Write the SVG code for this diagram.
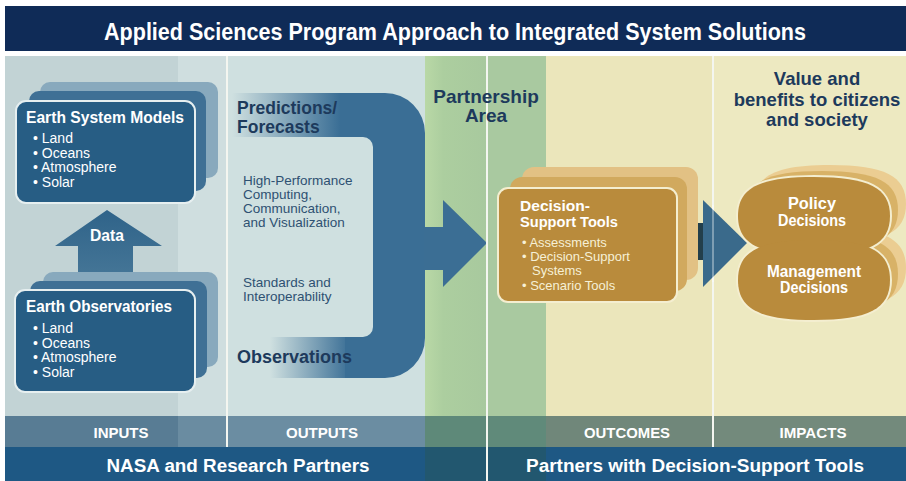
<svg xmlns="http://www.w3.org/2000/svg" width="906" height="481" viewBox="0 0 906 481">
<defs>
<style>
.cond{font-family:"Liberation Sans","DejaVu Sans",sans-serif;font-weight:bold;fill:#ffffff}
.hdr{font-family:"Liberation Sans","DejaVu Sans",sans-serif;font-weight:bold;fill:#1d3a5c}
.body{font-family:"Liberation Sans","DejaVu Sans",sans-serif;fill:#2e5172;font-size:13.5px}
.bul{font-family:"Liberation Sans","DejaVu Sans",sans-serif;fill:#ffffff;font-size:14px}
.bulc{font-family:"Liberation Sans","DejaVu Sans",sans-serif;fill:#f6f0d6;font-size:13px}
.vline{stroke:#f4f6f0;stroke-width:2}
</style>
<linearGradient id="gTop" gradientUnits="userSpaceOnUse" x1="232" y1="0" x2="340" y2="0">
<stop offset="0" stop-color="#3a6e95" stop-opacity="0"/>
<stop offset="1" stop-color="#3a6e95" stop-opacity="1"/>
</linearGradient>
<linearGradient id="gBot" gradientUnits="userSpaceOnUse" x1="270" y1="0" x2="350" y2="0">
<stop offset="0" stop-color="#3a6e95" stop-opacity="0"/>
<stop offset="1" stop-color="#3a6e95" stop-opacity="1"/>
</linearGradient>
<linearGradient id="gGreen" gradientUnits="userSpaceOnUse" x1="425" y1="0" x2="486" y2="0">
<stop offset="0" stop-color="#b9d8a6"/>
<stop offset="0.3" stop-color="#acce9f"/>
<stop offset="1" stop-color="#a8c99e"/>
</linearGradient>
<linearGradient id="gShaft" x1="0" y1="0" x2="0" y2="1">
<stop offset="0" stop-color="#2f6389"/>
<stop offset="1" stop-color="#4a7a9a"/>
</linearGradient>
<path id="pol" d="M738,216 C738,187.9 759.3,177 814,177 C868.7,177 890,187.9 890,216 C890,244.1 868.7,255 814,255 C759.3,255 738,244.1 738,216 Z"/>
<path id="mgt" d="M738,280 C738,251.2 759.3,240 814,240 C868.7,240 890,251.2 890,280 C890,308.8 868.7,320 814,320 C759.3,320 738,308.8 738,280 Z"/>
</defs>

<rect x="0" y="0" width="906" height="481" fill="#ffffff"/>
<g id="columns">
<rect x="5" y="56" width="173" height="360" fill="#c2d3d5"/>
<rect x="178" y="56" width="49" height="360" fill="#cfdedf"/>
<rect x="227" y="56" width="198" height="360" fill="#cfe0e0"/>
<rect x="425" y="56" width="62" height="360" fill="url(#gGreen)"/>
<rect x="487" y="56" width="59" height="360" fill="#a9c9a0"/>
<rect x="546" y="56" width="167" height="360" fill="#ebe6bb"/>
<rect x="713" y="56" width="193" height="360" fill="#ede9c1"/>
</g>

<g id="title">
<rect x="5" y="6" width="901" height="45" fill="#0f2b57"/>
<text class="cond" x="455" y="40" font-size="23" text-anchor="middle" textLength="702" lengthAdjust="spacingAndGlyphs">Applied Sciences Program Approach to Integrated System Solutions</text>
</g>

<g id="bands">
<rect x="5" y="416" width="173" height="31" fill="#587c94"/>
<rect x="178" y="416" width="49" height="31" fill="#6a8ca1"/>
<rect x="227" y="416" width="198" height="31" fill="#6b8da2"/>
<rect x="425" y="416" width="62" height="31" fill="#5e8979"/>
<rect x="487" y="416" width="59" height="31" fill="#608a7a"/>
<rect x="546" y="416" width="167" height="31" fill="#70877a"/>
<rect x="713" y="416" width="193" height="31" fill="#738a7c"/>
<rect x="5" y="447" width="420" height="34" fill="#1e5884"/>
<rect x="425" y="447" width="121" height="34" fill="#22576f"/>
<rect x="546" y="447" width="360" height="34" fill="#1e5884"/>
</g>

<g id="dividers">
<line class="vline" x1="227" y1="56" x2="227" y2="447"/>
<line class="vline" x1="713" y1="56" x2="713" y2="447"/>
</g>

<g id="band-labels">
<text class="cond" x="121" y="438" font-size="15" text-anchor="middle" textLength="55" lengthAdjust="spacingAndGlyphs">INPUTS</text>
<text class="cond" x="322" y="438" font-size="15" text-anchor="middle" textLength="72" lengthAdjust="spacingAndGlyphs">OUTPUTS</text>
<text class="cond" x="627" y="438" font-size="15" text-anchor="middle" textLength="86" lengthAdjust="spacingAndGlyphs">OUTCOMES</text>
<text class="cond" x="813" y="438" font-size="15" text-anchor="middle" textLength="67" lengthAdjust="spacingAndGlyphs">IMPACTS</text>
<text class="cond" x="238" y="472" font-size="18" text-anchor="middle" textLength="263" lengthAdjust="spacingAndGlyphs">NASA and Research Partners</text>
<text class="cond" x="695" y="472" font-size="18" text-anchor="middle" textLength="338" lengthAdjust="spacingAndGlyphs">Partners with Decision-Support Tools</text>
</g>

<g id="connectors">
<path id="data-arrow" d="M107,210 L162,246 L133,246 L133,292 L78,292 L78,246 L55,246 Z" fill="url(#gShaft)"/>
<g id="outputs-arrow">
<rect x="232" y="93" width="114" height="44" fill="url(#gTop)"/>
<rect x="236" y="337" width="110" height="41" fill="url(#gBot)"/>
<path d="M345,93 H385 A40,40 0 0 1 425,133 V338 A40,40 0 0 1 385,378 H345 V337 H363 A10,10 0 0 0 373,327 V147 A10,10 0 0 0 363,137 H345 Z" fill="#3a6e95"/>
<path d="M424,227 H443 V200 L487,243 L443,287 V270 H424 Z" fill="#3b6e94"/>
</g>
<g id="dst-arrow">
<rect x="677" y="223" width="27" height="37" fill="#233f4b"/>
<path d="M703,200 L747,243 L703,287 Z" fill="#3a6a8b"/>
</g>
</g>

<line class="vline" x1="487" y1="56" x2="487" y2="481"/>
<line x1="713" y1="205" x2="713" y2="282" stroke="#ffffff" stroke-opacity="0.35" stroke-width="2"/>

<g id="esm">
<rect x="40" y="82" width="178" height="96" rx="10" fill="#88a9bd"/>
<rect x="29" y="91" width="177" height="100" rx="10" fill="#3f7095"/>
<rect x="16" y="101" width="179" height="102" rx="10" fill="#275d84" stroke="#e6eff0" stroke-width="2"/>
<text class="cond" x="26" y="123" font-size="16" textLength="158" lengthAdjust="spacingAndGlyphs">Earth System Models</text>
<text class="bul" x="33" y="143">• Land</text>
<text class="bul" x="33" y="157.5">• Oceans</text>
<text class="bul" x="33" y="172">• Atmosphere</text>
<text class="bul" x="33" y="186.5">• Solar</text>
</g>

<text class="cond" x="107" y="241" font-size="16" text-anchor="middle" textLength="34" lengthAdjust="spacingAndGlyphs">Data</text>

<g id="eo">
<rect x="43" y="272" width="175" height="95" rx="10" fill="#88a9bd"/>
<rect x="30" y="281" width="177" height="97" rx="10" fill="#3f7095"/>
<rect x="15" y="290" width="180" height="102" rx="10" fill="#275d84" stroke="#e6eff0" stroke-width="2"/>
<text class="cond" x="26" y="312" font-size="16" textLength="146" lengthAdjust="spacingAndGlyphs">Earth Observatories</text>
<text class="bul" x="33" y="333">• Land</text>
<text class="bul" x="33" y="347.5">• Oceans</text>
<text class="bul" x="33" y="362">• Atmosphere</text>
<text class="bul" x="33" y="376.5">• Solar</text>
</g>

<g id="outputs">
<text class="hdr" x="237" y="114" font-size="17.5">Predictions/</text>
<text class="hdr" x="237" y="133" font-size="17.5">Forecasts</text>
<text class="body" x="243" y="185">High-Performance</text>
<text class="body" x="243" y="199">Computing,</text>
<text class="body" x="243" y="213">Communication,</text>
<text class="body" x="243" y="227">and Visualization</text>
<text class="body" x="243" y="287">Standards and</text>
<text class="body" x="243" y="301">Interoperability</text>
<text class="hdr" x="237" y="363" font-size="18">Observations</text>
</g>

<g id="partnership">
<text class="hdr" x="486" y="103" font-size="19" text-anchor="middle">Partnership</text>
<text class="hdr" x="486" y="122" font-size="19" text-anchor="middle">Area</text>
</g>

<g id="dst">
<rect x="522" y="167" width="176" height="113" rx="12" fill="#e2c184"/>
<rect x="510" y="177" width="177" height="114" rx="12" fill="#d1a95e"/>
<rect x="498" y="188" width="179" height="114" rx="10" fill="#b98b3c" stroke="#f4eed0" stroke-width="2"/>
<text class="cond" x="520" y="211" font-size="14.5" textLength="70" lengthAdjust="spacingAndGlyphs">Decision-</text>
<text class="cond" x="520" y="227" font-size="14.5" textLength="98" lengthAdjust="spacingAndGlyphs">Support Tools</text>
<text class="bulc" x="522" y="247">• Assessments</text>
<text class="bulc" x="522" y="261">• Decision-Support</text>
<text class="bulc" x="532" y="275">Systems</text>
<text class="bulc" x="522" y="290">• Scenario Tools</text>
</g>

<g id="impacts-header">
<text class="hdr" x="817" y="85" font-size="18.5" text-anchor="middle">Value and</text>
<text class="hdr" x="817" y="106" font-size="18.5" text-anchor="middle">benefits to citizens</text>
<text class="hdr" x="817" y="126" font-size="18.5" text-anchor="middle">and society</text>
</g>

<g id="decisions">
<g transform="translate(16,-12)" fill="#ebcd92">
<use href="#pol"/><use href="#mgt"/>
</g>
<g transform="translate(8,-6)" fill="#d8b267">
<use href="#pol"/><use href="#mgt"/>
</g>
<g stroke="#f4eed0" stroke-width="4" fill="#b98b3c">
<use href="#pol"/><use href="#mgt"/>
</g>
<g fill="#b98b3c">
<use href="#pol"/><use href="#mgt"/>
</g>
<text class="cond" x="812" y="209" font-size="16" text-anchor="middle" textLength="48" lengthAdjust="spacingAndGlyphs">Policy</text>
<text class="cond" x="812" y="226" font-size="16" text-anchor="middle" textLength="68" lengthAdjust="spacingAndGlyphs">Decisions</text>
<text class="cond" x="814" y="277" font-size="16" text-anchor="middle" textLength="94" lengthAdjust="spacingAndGlyphs">Management</text>
<text class="cond" x="814" y="293" font-size="16" text-anchor="middle" textLength="68" lengthAdjust="spacingAndGlyphs">Decisions</text>
</g>
</svg>
